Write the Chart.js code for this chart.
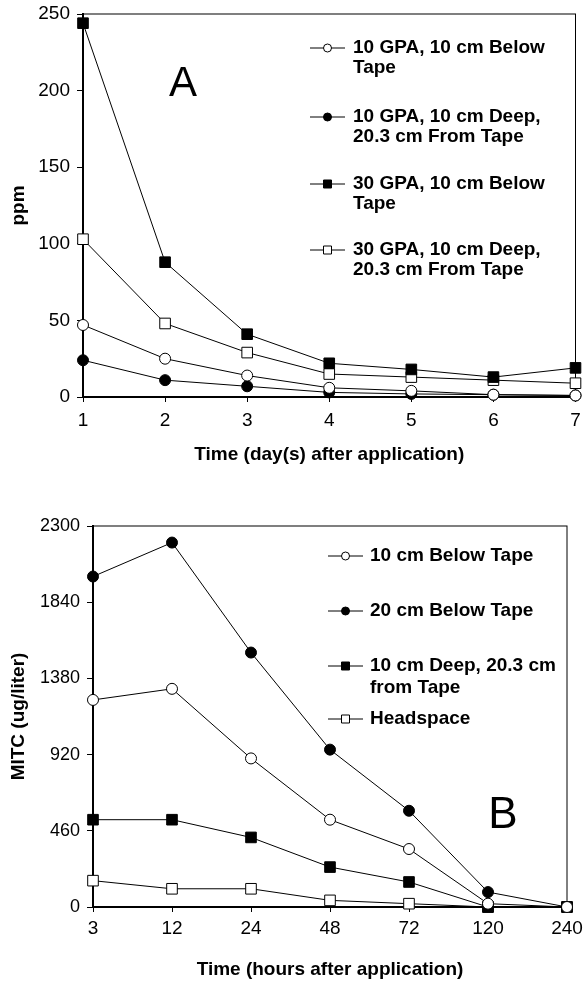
<!DOCTYPE html>
<html>
<head>
<meta charset="utf-8">
<script src="https://cdn.jsdelivr.net/npm/chart.js@4.4.1/dist/chart.umd.min.js"></script>
<style>
  html, body { margin: 0; padding: 0; background: #fff; }
  .panel { position: absolute; left: 0; width: 584px; }
  #wrapA { top: 0; height: 470px; }
  #wrapB { top: 470px; height: 514px; }
</style>
</head>
<body>
<div class="panel" id="wrapA"><canvas id="chartA" width="584" height="470"></canvas></div>
<div class="panel" id="wrapB"><canvas id="chartB" width="584" height="514"></canvas></div>
<script>
// === Panel A: ppm by day ===
const daysA = ['1', '2', '3', '4', '5', '6', '7'];
const gpa10Below = [47, 25, 14, 6, 4, 1.5, 1];
const gpa10Deep = [24, 11, 7, 3, 2, 1.5, 1];
const gpa30Below = [244, 88, 41, 22, 18, 13, 19];
const gpa30Deep = [103, 48, 29, 15, 13, 11, 9];
const labelsA = [
  ['10 GPA, 10 cm Below', 'Tape'],
  ['10 GPA, 10 cm Deep,', '20.3 cm From Tape'],
  ['30 GPA, 10 cm Below', 'Tape'],
  ['30 GPA, 10 cm Deep,', '20.3 cm From Tape'],
];
const ticksA = [0, 50, 100, 150, 200, 250];

// === Panel B: MITC by hour ===
const hoursB = ['3', '12', '24', '48', '72', '120', '240'];
const cm10Below = [1250, 1317, 897, 527, 350, 20, 0];
const cm20Below = [1995, 2200, 1536, 950, 581, 90, 0];
const cm10Deep = [527, 527, 420, 241, 151, 0, 0];
const headspace = [159, 110, 110, 40, 20, 0, 0];
const labelsB = [
  ['10 cm Below Tape'],
  ['20 cm Below Tape'],
  ['10 cm Deep, 20.3 cm', 'from Tape'],
  ['Headspace'],
];
const ticksB = [0, 460, 920, 1380, 1840, 2300];

const FONT = '"Liberation Sans", Arial, sans-serif';
Chart.defaults.font.family = FONT;
Chart.defaults.color = '#000';

// marker looks: open circle, filled circle, filled square, open square
const looks = [
  { pointStyle: 'circle', fill: '#fff' },
  { pointStyle: 'circle', fill: '#000' },
  { pointStyle: 'rect', fill: '#000' },
  { pointStyle: 'rect', fill: '#fff' },
];

function makeDataset(label, data, look) {
  return {
    label,
    data,
    borderColor: '#000',
    borderWidth: 1,
    tension: 0,
    pointStyle: look.pointStyle,
    pointRadius: look.pointStyle === 'rect' ? 7.5 : 5.5,
    pointBackgroundColor: look.fill,
    pointBorderColor: '#000',
    pointBorderWidth: 1,
    clip: false,
  };
}

function drawMarker(ctx, ds, x, y, r) {
  ctx.save();
  ctx.fillStyle = ds.pointBackgroundColor;
  ctx.strokeStyle = '#000';
  ctx.lineWidth = 1;
  ctx.beginPath();
  if (ds.pointStyle === 'rect') ctx.rect(x - r, y - r, 2 * r, 2 * r);
  else ctx.arc(x, y, r, 0, Math.PI * 2);
  ctx.fill();
  ctx.stroke();
  ctx.restore();
}

// box around plot area (thin top/right edges)
const framePlugin = {
  id: 'frame',
  beforeDatasetsDraw(chart) {
    const { ctx, chartArea: a } = chart;
    ctx.save();
    ctx.strokeStyle = '#000';
    ctx.lineWidth = 1;
    ctx.strokeRect(a.left, a.top, a.right - a.left, a.bottom - a.top);
    ctx.restore();
  },
};

// legend inside plot, multi-line labels
const boxLegendPlugin = {
  id: 'boxLegend',
  afterDraw(chart, args, opts) {
    const ctx = chart.ctx;
    ctx.save();
    ctx.font = `bold ${opts.fontSize}px ${FONT}`;
    ctx.fillStyle = '#000';
    ctx.textBaseline = 'middle';
    ctx.textAlign = 'left';
    chart.data.datasets.forEach((ds, i) => {
      const y = opts.rows[i];
      ctx.beginPath();
      ctx.strokeStyle = '#000';
      ctx.lineWidth = 1;
      ctx.moveTo(opts.x, y);
      ctx.lineTo(opts.x + opts.lineLen, y);
      ctx.stroke();
      drawMarker(ctx, ds, opts.x + opts.lineLen / 2, y, 4);
      opts.lines[i].forEach((t, j) => ctx.fillText(t, opts.textX, y + j * opts.lineGap));
    });
    ctx.restore();
  },
};

// big panel letter
const letterPlugin = {
  id: 'panelLetter',
  afterDraw(chart, args, opts) {
    const ctx = chart.ctx;
    ctx.save();
    ctx.font = `${opts.size}px ${FONT}`;
    ctx.fillStyle = '#000';
    ctx.textAlign = 'center';
    ctx.textBaseline = 'middle';
    ctx.fillText(opts.text, opts.x, opts.y);
    ctx.restore();
  },
};

function makeScales(xTitle, yTitle, yMax, yTicks, sizes) {
  return {
    x: {
      type: 'category',
      offset: false,
      grid: { drawOnChartArea: false, drawTicks: true, tickLength: 5, color: '#000' },
      border: { display: true, color: '#000', width: 2 },
      ticks: { color: '#000', font: { size: 19 }, padding: sizes.xTickPad, maxRotation: 0, autoSkip: false },
      title: { display: true, text: xTitle, color: '#000', font: { size: 19, weight: 'bold' }, padding: { top: 2, bottom: sizes.xTitlePad } },
      // fixed box so the plot area comes only from layout padding
      afterFit: s => { s.height = sizes.xHeight; s.paddingLeft = 0; s.paddingRight = 0; },
    },
    y: {
      min: 0,
      max: yMax,
      grid: { drawOnChartArea: false, drawTicks: true, tickLength: 6, color: '#000' },
      border: { display: true, color: '#000', width: 2 },
      ticks: { color: '#000', font: { size: sizes.yTickFont }, padding: 7, callback: v => String(v) },
      afterBuildTicks: s => { s.ticks = yTicks.map(v => ({ value: v })); },
      title: { display: true, text: yTitle, color: '#000', font: { size: 19, weight: 'bold' }, padding: { top: 7, bottom: 0 } },
      afterFit: s => { s.width = sizes.yWidth; s.paddingTop = 0; s.paddingBottom = 0; },
    },
  };
}

new Chart(document.getElementById('chartA'), {
  type: 'line',
  data: {
    labels: daysA,
    datasets: [
      makeDataset(labelsA[0].join(' '), gpa10Below, looks[0]),
      makeDataset(labelsA[1].join(' '), gpa10Deep, looks[1]),
      makeDataset(labelsA[2].join(' '), gpa30Below, looks[2]),
      makeDataset(labelsA[3].join(' '), gpa30Deep, looks[3]),
    ],
  },
  options: {
    responsive: false,
    animation: false,
    layout: { padding: { top: 14, right: 7, left: 0, bottom: 0 } },
    scales: makeScales('Time (day(s) after application)', 'ppm', 250, ticksA,
      { xHeight: 73, yWidth: 83, xTickPad: 7, xTitlePad: 4, yTickFont: 19 }),
    plugins: {
      legend: { display: false },
      tooltip: { enabled: false },
      boxLegend: { x: 310, lineLen: 35, textX: 353, rows: [48, 117, 184, 250], lineGap: 20, fontSize: 19, lines: labelsA },
      panelLetter: { text: 'A', x: 183, y: 84, size: 42 },
    },
  },
  plugins: [framePlugin, boxLegendPlugin, letterPlugin],
});

new Chart(document.getElementById('chartB'), {
  type: 'line',
  data: {
    labels: hoursB,
    datasets: [
      makeDataset(labelsB[0].join(' '), cm10Below, looks[0]),
      makeDataset(labelsB[1].join(' '), cm20Below, looks[1]),
      makeDataset(labelsB[2].join(' '), cm10Deep, looks[2]),
      makeDataset(labelsB[3].join(' '), headspace, looks[3]),
    ],
  },
  options: {
    responsive: false,
    animation: false,
    layout: { padding: { top: 56, right: 17, left: 0, bottom: 0 } },
    scales: makeScales('Time (hours after application)', 'MITC (ug/liter)', 2300, ticksB,
      { xHeight: 77, yWidth: 93, xTickPad: 5, xTitlePad: 3, yTickFont: 18 }),
    plugins: {
      legend: { display: false },
      tooltip: { enabled: false },
      boxLegend: { x: 328, lineLen: 35, textX: 370, rows: [86, 141, 196, 249], lineGap: 22, fontSize: 19, lines: labelsB },
      panelLetter: { text: 'B', x: 503, y: 346, size: 44 },
    },
  },
  plugins: [framePlugin, boxLegendPlugin, letterPlugin],
});
</script>
</body>
</html>
